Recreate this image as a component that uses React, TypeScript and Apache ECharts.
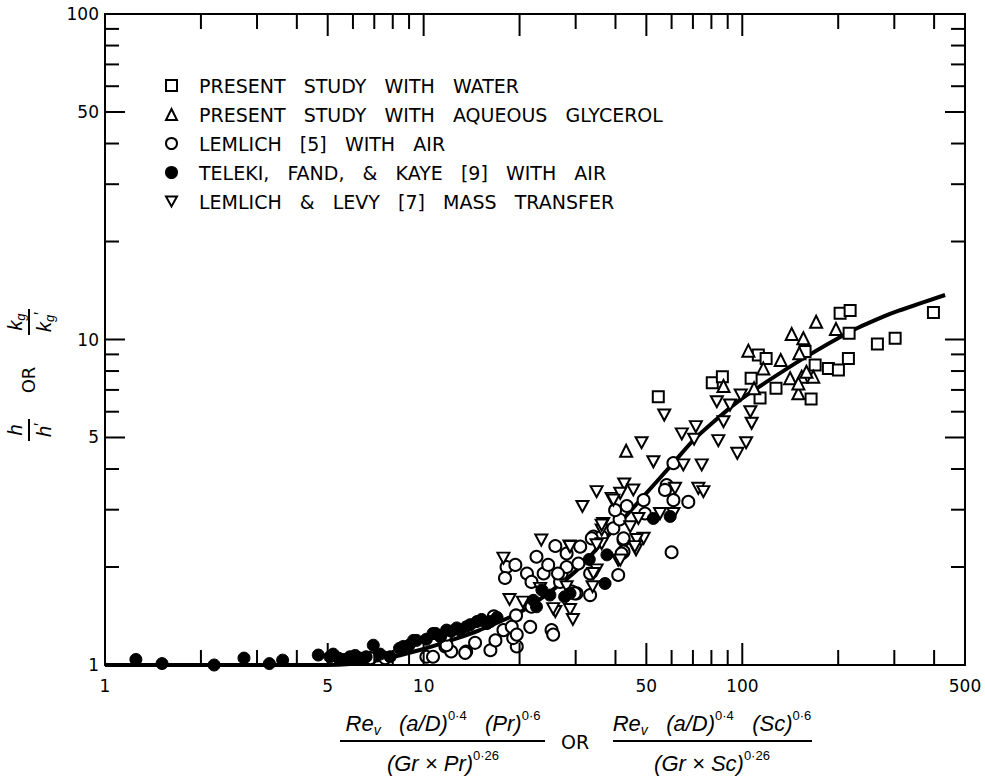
import React, { useEffect, useRef } from "react";
import * as echarts from "echarts";

// ---------- data ----------
const curveX = [1, 5, 7, 10, 12.5, 15, 20, 25, 31, 38, 47.8, 60.8, 70.3, 87.3, 98.4, 111, 155.5, 218, 277, 313, 433];
const curveY = [1, 1.0, 1.03, 1.12, 1.2, 1.28, 1.45, 1.68, 2.0, 2.5, 3.21, 4.18, 4.91, 5.93, 6.52, 7.08, 8.75, 10.57, 11.75, 12.3, 13.7];

const waterPts = [
  [54.5, 6.67], [80.5, 7.37], [86.6, 7.69], [106.6, 7.6], [112.3, 8.96], [118.8, 8.75], [113.7, 6.61],
  [127.6, 7.08], [157.4, 9.18], [169.3, 8.35], [164.4, 6.56], [186.3, 8.15], [200.3, 8.06], [215.3, 8.75],
  [202.8, 12.04], [218, 12.27], [216.4, 10.45], [265.5, 9.69], [301.8, 10.09], [398, 12.1],
];

const glycerolPts = [
  [43.2, 4.55], [104.5, 9.24], [116.4, 8.15], [87.3, 7.2], [132, 8.65], [142.9, 10.4], [155.5, 10.09],
  [170.5, 11.34], [196.8, 10.77], [151, 9.07], [141.3, 7.6], [153.6, 7.69], [150, 6.84], [167, 7.69],
  [150, 7.33], [159, 7.96], [108.9, 7.08],
];

const lemlichAirPts = [
  [6.8, 1.05], [7.57, 1.05], [10.2, 1.06], [10.7, 1.06], [11.7, 1.14], [12.2, 1.1], [13.6, 1.1], [11.7, 1.19],
  [11.8, 1.15], [11.8, 1.24], [13.5, 1.09], [14.5, 1.17], [16.2, 1.11], [16.8, 1.19], [19.6, 1.14], [19.1, 1.21],
  [17.8, 1.28], [16.6, 1.41], [19.5, 1.42], [21.6, 1.31], [25.2, 1.28], [25.5, 1.24], [21.8, 1.51], [18.9, 1.31],
  [19.6, 1.24], [18.2, 2.0], [18, 1.85], [19.4, 2.03], [21.1, 1.91], [21.8, 1.8], [22.6, 2.15], [23.8, 1.91],
  [24.6, 2.03], [25.9, 2.32], [26.8, 1.8], [27.1, 1.91], [28.1, 2.0], [30.6, 2.05], [29.2, 1.68], [30.2, 1.66],
  [33.3, 1.91], [33.3, 1.64], [31, 2.31], [34.1, 2.48], [36.2, 2.48], [39.4, 2.63], [42.4, 2.42], [42.4, 2.23],
  [40.8, 1.89], [41.2, 2.8], [39.9, 2.99], [43.4, 3.08], [49, 3.21], [49.5, 2.92], [60.8, 3.21], [57.9, 3.57],
  [60.8, 4.17], [60, 2.22], [67.7, 3.17], [57.2, 3.45], [42.4, 2.45], [41.8, 2.2], [29.8, 1.66], [26.4, 1.91],
  [28.1, 2.2], [33.7, 2.45],
];

const telekiPts = [
  [1.25, 1.04], [1.51, 1.01], [2.2, 1.0], [2.73, 1.05], [3.28, 1.01], [3.61, 1.035], [4.67, 1.073], [5.08, 1.06],
  [5.2, 1.08], [5.4, 1.05], [5.6, 1.04], [5.87, 1.06], [6.1, 1.07], [6.3, 1.05], [6.6, 1.06], [6.95, 1.15],
  [7.3, 1.08], [7.85, 1.06], [8.4, 1.125], [8.63, 1.14], [9.0, 1.15], [9.29, 1.19], [9.5, 1.19], [10.2, 1.2],
  [10.7, 1.25], [10.9, 1.25], [11.3, 1.22], [11.8, 1.28], [12.2, 1.27], [12.7, 1.3], [13, 1.28], [13.6, 1.31],
  [14, 1.33], [14.7, 1.36], [15.2, 1.38], [15.8, 1.34], [16.2, 1.36], [17, 1.4],
  [22.1, 1.58], [22.6, 1.51], [23.5, 1.7], [24.9, 1.64], [27.7, 1.62], [28.8, 1.66], [33.1, 2.11], [37.6, 2.18],
  [37.1, 1.78], [52.6, 2.82], [59.4, 2.86],
];

const massTransferPts = [
  [56.9, 5.86], [48.3, 4.82], [64.6, 5.13], [71.5, 5.4], [70.6, 4.94], [83.2, 6.44], [91.5, 6.29], [84.1, 4.89],
  [87.3, 5.59], [102.8, 4.82], [96.5, 4.47], [98.9, 6.75], [107, 5.53], [106, 6.0], [52.6, 4.21], [65.3, 4.12],
  [74.6, 4.12], [72.8, 3.49], [75.5, 3.41], [61.5, 3.49], [34.9, 3.41], [31.5, 3.07], [42.6, 3.6], [38.9, 3.25],
  [41.4, 3.37], [47.2, 2.82], [55.2, 2.92], [60.8, 2.92], [36.6, 2.72], [44.5, 2.66], [49, 2.45], [46.4, 2.26],
  [40.8, 2.1], [34.9, 1.96], [33.9, 1.74], [25.9, 1.46], [28.8, 1.48], [29.4, 1.38], [23.4, 2.42], [17.8, 2.13],
  [28.7, 2.32], [18.6, 1.59], [20.5, 1.56], [25.5, 1.49], [23.2, 1.72], [28.1, 1.74], [34.1, 1.91], [41.4, 2.1],
  [36.2, 2.36], [46.6, 2.43], [45.5, 3.45], [36.2, 2.6], [39.4, 3.21], [28.8, 2.31], [34.9, 2.34], [36.2, 2.69],
  [46, 2.31],
];

const seriesNames = [
  "PRESENT STUDY WITH WATER",
  "PRESENT STUDY WITH AQUEOUS GLYCEROL",
  "LEMLICH [5] WITH AIR",
  "TELEKI, FAND, & KAYE [9] WITH AIR",
  "LEMLICH & LEVY [7] MASS TRANSFER",
];

const xTicksMajor = [5, 10, 20, 50, 100];
const xTicksMinor = [2, 3, 4, 6, 7, 8, 9, 30, 40, 60, 70, 80, 90, 200, 300, 400];
const yTicksMajor = [5, 10, 50];
const yTicksMinor = [2, 3, 4, 6, 7, 8, 9, 20, 30, 40, 60, 70, 80, 90];
const xTickLabels = [1, 5, 10, 50, 100, 500];
const yTickLabels = [1, 5, 10, 50, 100];

// ---------- styling ----------
const LAB_FONT = "DejaVu Sans";
const FORM_FONT = "Liberation Sans";
const INV_TRI = "path://M0,0L10,0L5,9Z";
const openStyle = { color: "#fff", borderColor: "#000", borderWidth: 2, opacity: 1 };
const filledStyle = { color: "#000", borderColor: "#000", borderWidth: 1, opacity: 1 };

function xTickSeries(values: number[], len: number) {
  return {
    type: "custom",
    silent: true,
    clip: false,
    z: 5,
    data: values.map((v) => [v, 1]),
    renderItem: (params: any, api: any) => {
      const p = api.coord([api.value(0), 1]);
      const cs = params.coordSys;
      const b = cs.y + cs.height;
      return {
        type: "group",
        children: [
          { type: "line", shape: { x1: p[0], y1: b, x2: p[0], y2: b - len }, style: { stroke: "#000", lineWidth: 2 } },
          { type: "line", shape: { x1: p[0], y1: cs.y, x2: p[0], y2: cs.y + len }, style: { stroke: "#000", lineWidth: 2 } },
        ],
      };
    },
  };
}

function yTickSeries(values: number[], len: number) {
  return {
    type: "custom",
    silent: true,
    clip: false,
    z: 5,
    data: values.map((v) => [1, v]),
    renderItem: (params: any, api: any) => {
      const p = api.coord([1, api.value(1)]);
      const cs = params.coordSys;
      const r = cs.x + cs.width;
      return {
        type: "group",
        children: [
          { type: "line", shape: { x1: cs.x, y1: p[1], x2: cs.x + len, y2: p[1] }, style: { stroke: "#000", lineWidth: 2 } },
          { type: "line", shape: { x1: r, y1: p[1], x2: r - len, y2: p[1] }, style: { stroke: "#000", lineWidth: 2 } },
        ],
      };
    },
  };
}

const formulaRich = {
  b: { fontSize: 22, fontStyle: "italic", fontFamily: FORM_FONT, lineHeight: 28, verticalAlign: "middle", fill: "#000" },
  u: { fontSize: 13, fontFamily: FORM_FONT, lineHeight: 12, verticalAlign: "top", fill: "#000" },
  d: { fontSize: 14, fontStyle: "italic", fontFamily: FORM_FONT, lineHeight: 12, verticalAlign: "bottom", fill: "#000" },
};

const yTitleRich = {
  i: { fontSize: 20, fontStyle: "italic", fontFamily: FORM_FONT, lineHeight: 24, verticalAlign: "middle", fill: "#000" },
  s: { fontSize: 13, fontStyle: "italic", fontFamily: FORM_FONT, lineHeight: 10, verticalAlign: "bottom", fill: "#000" },
  p: { fontSize: 16, fontFamily: FORM_FONT, lineHeight: 10, verticalAlign: "top", fill: "#000" },
};

function ftext(x: number, y: number, text: string, rich: any) {
  return { type: "text", x, y, style: { text, rich, align: "center", verticalAlign: "middle", fill: "#000" } };
}
function bar(x1: number, x2: number, y: number) {
  return { type: "line", shape: { x1, y1: y, x2, y2: y }, style: { stroke: "#000", lineWidth: 2 } };
}

export default function App() {
  const ref = useRef<HTMLDivElement>(null);

  useEffect(() => {
    const chart = echarts.init(ref.current!, null, { renderer: "svg" });

    const option: any = {
      animation: false,
      backgroundColor: "#fff",
      grid: { left: 105, top: 14, width: 860, height: 651, show: true, borderColor: "#000", borderWidth: 2, backgroundColor: "transparent" },
      xAxis: {
        type: "log", logBase: 10, min: 1, max: 500,
        axisLine: { show: false }, axisTick: { show: false }, axisLabel: { show: false }, splitLine: { show: false },
      },
      yAxis: {
        type: "log", logBase: 10, min: 1, max: 100,
        axisLine: { show: false }, axisTick: { show: false }, axisLabel: { show: false }, splitLine: { show: false },
      },
      legend: {
        orient: "vertical",
        left: 160,
        top: 71,
        itemWidth: 11,
        itemHeight: 11,
        itemGap: 10,
        selectedMode: false,
        data: [
          { name: seriesNames[0], icon: "rect" },
          { name: seriesNames[1], icon: "triangle" },
          { name: seriesNames[2], icon: "circle" },
          { name: seriesNames[3], icon: "circle" },
          { name: seriesNames[4], icon: INV_TRI },
        ],
        formatter: (n: string) => "{t|" + n.replace(/ /g, "   ") + "}",
        textStyle: {
          color: "#000",
          fontFamily: LAB_FONT,
          fontSize: 19,
          lineHeight: 18,
          rich: { t: { fontFamily: LAB_FONT, fontSize: 19, lineHeight: 18, padding: [0, 0, 0, 17], color: "#000" } },
        },
      },
      graphic: [
        // x axis title
        ftext(443, 723, "{b|Re}{d|v}{b|   (a/D)}{u|0·4}{b|   (Pr)}{u|0·6}", formulaRich),
        bar(340, 545, 741),
        ftext(443, 763, "{b|(Gr × Pr)}{u|0·26}", formulaRich),
        { type: "text", x: 575, y: 742, style: { text: "OR", fontFamily: LAB_FONT, fontSize: 19, fill: "#000", align: "center", verticalAlign: "middle" } },
        ftext(712, 723, "{b|Re}{d|v}{b|   (a/D)}{u|0·4}{b|   (Sc)}{u|0·6}", formulaRich),
        bar(613, 812, 741),
        ftext(712, 763, "{b|(Gr × Sc)}{u|0·26}", formulaRich),
        // y axis title (rotated)
        {
          type: "group",
          x: 29,
          y: 380,
          rotation: Math.PI / 2,
          children: [
            { type: "text", x: 0, y: -1, style: { text: "OR", fontFamily: LAB_FONT, fontSize: 18, fill: "#000", align: "center", verticalAlign: "middle" } },
            ftext(-50, -14, "{i|h}", yTitleRich),
            bar(-61, -39, 0),
            ftext(-50, 15, "{i|h}{p|′}", yTitleRich),
            ftext(58, -14, "{i|k}{s|g}", yTitleRich),
            bar(45, 71, 0),
            ftext(58, 15, "{i|k}{s|g}{p|′}", yTitleRich),
          ],
        },
      ],
      series: [
        {
          type: "line",
          name: "curve",
          data: curveX.map((x, i) => [x, curveY[i]]),
          smooth: 0.25,
          showSymbol: false,
          symbol: "none",
          silent: true,
          lineStyle: { color: "#000", width: 4 },
          z: 2,
        },
        { type: "scatter", name: seriesNames[0], data: waterPts, symbol: "rect", symbolSize: 11, itemStyle: openStyle, z: 3 },
        { type: "scatter", name: seriesNames[1], data: glycerolPts, symbol: "triangle", symbolSize: 12, itemStyle: openStyle, z: 3 },
        { type: "scatter", name: seriesNames[2], data: lemlichAirPts, symbol: "circle", symbolSize: 12, itemStyle: openStyle, z: 3 },
        { type: "scatter", name: seriesNames[3], data: telekiPts, symbol: "circle", symbolSize: 12, itemStyle: filledStyle, z: 4 },
        { type: "scatter", name: seriesNames[4], data: massTransferPts, symbol: INV_TRI, symbolSize: [12, 11], itemStyle: openStyle, z: 3 },
        xTickSeries(xTicksMajor, 22),
        xTickSeries(xTicksMinor, 15),
        yTickSeries(yTicksMajor, 20),
        yTickSeries(yTicksMinor, 14),
        {
          type: "custom",
          silent: true,
          clip: false,
          z: 5,
          data: xTickLabels.map((v) => [v, 1]),
          renderItem: (params: any, api: any) => {
            const v = api.value(0);
            const p = api.coord([v, 1]);
            const cs = params.coordSys;
            return {
              type: "text",
              x: p[0],
              y: cs.y + cs.height + 21,
              style: { text: String(v), fontFamily: LAB_FONT, fontSize: 17, fill: "#000", align: "center", verticalAlign: "middle" },
            };
          },
        },
        {
          type: "custom",
          silent: true,
          clip: false,
          z: 5,
          data: yTickLabels.map((v) => [1, v]),
          renderItem: (params: any, api: any) => {
            const v = api.value(1);
            const p = api.coord([1, v]);
            const cs = params.coordSys;
            return {
              type: "text",
              x: cs.x - 6,
              y: p[1],
              style: { text: String(v), fontFamily: LAB_FONT, fontSize: 17, fill: "#000", align: "right", verticalAlign: "middle" },
            };
          },
        },
      ],
    };

    chart.setOption(option);
    return () => chart.dispose();
  }, []);

  return (
    <div
      ref={ref}
      style={{ position: "absolute", left: 0, top: 0, width: 985, height: 780, background: "#fff" }}
    />
  );
}
